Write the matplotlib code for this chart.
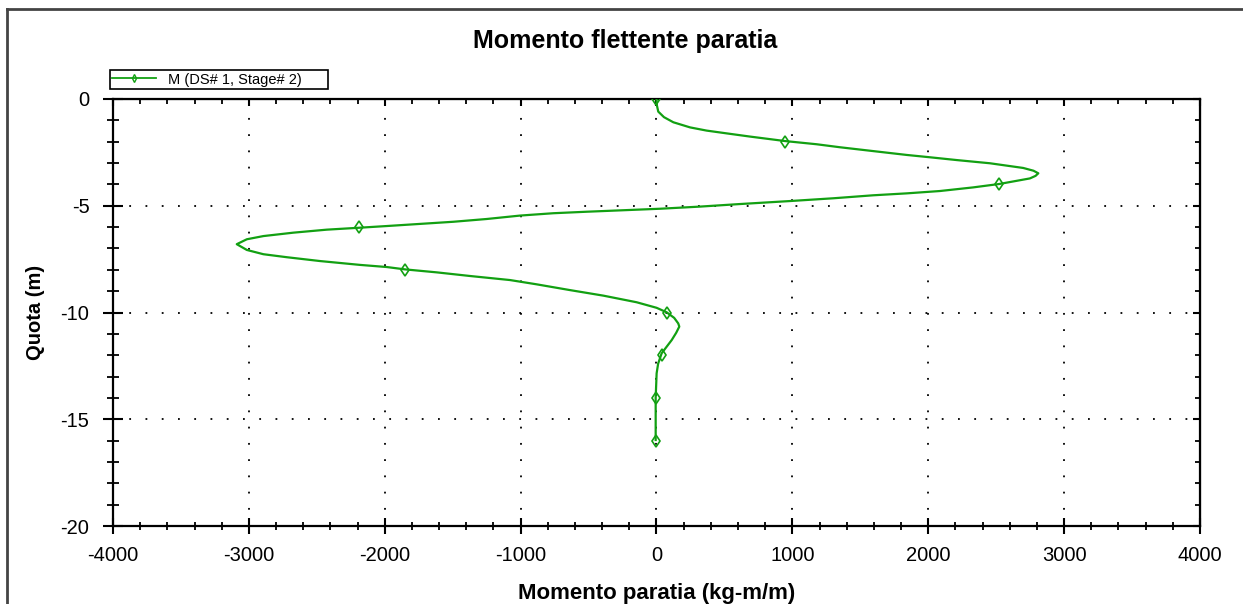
import matplotlib.pyplot as plt
from matplotlib.lines import Line2D
from matplotlib.ticker import MultipleLocator

plt.rcParams['font.family'] = ['Liberation Sans', 'DejaVu Sans']
plt.rcParams['axes.unicode_minus'] = False

# momento flettente lungo la paratia (quota in m, momento in kg-m/m)
quota = [0.0, -0.3, -0.59, -0.85, -1.09, -1.33, -1.48, -1.61, -1.76, -1.97, -2.12, -2.26, -2.44,
         -2.62, -2.73, -2.86, -3.01, -3.23, -3.36, -3.48, -3.60, -3.72, -3.98, -4.14, -4.31, -4.42,
         -4.51, -4.65, -4.78, -4.92, -5.04, -5.14, -5.28, -5.35, -5.46, -5.62, -5.75,
         -5.85, -5.95, -6.03, -6.12, -6.26, -6.42, -6.57, -6.80, -7.07, -7.27, -7.41,
         -7.59, -7.77, -7.87, -7.98, -8.12, -8.29, -8.48, -8.68, -8.95, -9.21, -9.52,
         -9.78, -9.99, -10.25, -10.51, -10.66, -10.95, -11.29, -11.91, -12.4, -12.85, -13.99, -15.97]
momento = [0, 3, 13, 55, 124, 247, 369, 516, 688, 946, 1179, 1350, 1595,
           1841, 2013, 2209, 2454, 2699, 2775, 2810, 2790, 2748, 2523, 2331, 2086, 1841,
           1595, 1301, 982, 614, 320, 26, -514, -759, -1004, -1249, -1495,
           -1740, -1985, -2189, -2427, -2672, -2893, -3015, -3089, -3015, -2893, -2721,
           -2476, -2182, -1985, -1851, -1617, -1372, -1078, -882, -637, -391, -146,
           1, 75, 130, 160, 168, 145, 112, 38, 12, 1, -6, -6]

# punti di calcolo marcati ogni 2 m
quota_mark = [0, -2, -4, -6, -8, -10, -12, -14, -16]
momento_mark = [0, 946, 2523, -2189, -1851, 75, 38, -6, -6]

verde = '#12a012'

fig = plt.figure(figsize=(12.43, 6.04), dpi=100)
ax = fig.add_axes([0.0909, 0.1291, 0.8745, 0.7070])

ax.plot(momento, quota, color=verde, lw=1.6, zorder=3)
ax.plot(momento_mark, quota_mark, ls='none', marker='d', ms=6, mfc='none',
        mec=verde, mew=1.2, zorder=4)

ax.set_xlim(-4000, 4000)
ax.set_ylim(-20, 0)
ax.xaxis.set_major_locator(MultipleLocator(1000))
ax.xaxis.set_minor_locator(MultipleLocator(200))
ax.yaxis.set_major_locator(MultipleLocator(5))
ax.yaxis.set_minor_locator(MultipleLocator(1))

ax.grid(True, which='major', color='black', ls=(0, (1, 8)), lw=1.3)

for s in ax.spines.values():
    s.set_linewidth(1.6)

ax.tick_params(axis='x', which='major', direction='inout', length=11, width=1.5,
               labelsize=14.5, pad=9)
ax.tick_params(axis='x', which='minor', direction='inout', length=6, width=1.3)
ax.tick_params(axis='y', which='major', direction='inout', length=14, width=1.5,
               labelsize=14.5, pad=10)
ax.tick_params(axis='y', which='minor', direction='inout', length=8, width=1.3)

# tacche interne sui lati superiore e destro
top = ax.secondary_xaxis('top')
top.xaxis.set_major_locator(MultipleLocator(1000))
top.xaxis.set_minor_locator(MultipleLocator(200))
top.tick_params(which='major', direction='in', length=5, width=1.5, labeltop=False)
top.tick_params(which='minor', direction='in', length=3.5, width=1.3)
right = ax.secondary_yaxis('right')
right.yaxis.set_major_locator(MultipleLocator(5))
right.yaxis.set_minor_locator(MultipleLocator(1))
right.tick_params(which='major', direction='in', length=5, width=1.5, labelright=False)
right.tick_params(which='minor', direction='in', length=3.5, width=1.3)

ax.set_xlabel('Momento paratia (kg-m/m)', fontsize=16, fontweight='bold', labelpad=13)
ax.set_ylabel('Quota (m)', fontsize=14.5, fontweight='bold', labelpad=11)
fig.text(0.503, 0.932, 'Momento flettente paratia', ha='center', va='center',
         fontsize=18, fontweight='bold')

handle = Line2D([], [], color=verde, lw=1.3, marker='d', ms=4, mfc='none', mec=verde)
leg = fig.legend([handle], ['M (DS# 1, Stage# 2)      '], loc='lower left',
                 bbox_to_anchor=(0.0885, 0.853), fontsize=10.5, frameon=True,
                 fancybox=False, edgecolor='black', framealpha=1,
                 handlelength=3.0, borderpad=0.15, handletextpad=0.8,
                 borderaxespad=0)
leg.get_frame().set_linewidth(1.2)

# cornice del grafico
fig.add_artist(Line2D([0.0055, 0.0055], [0, 0.985], color='#444444', lw=2,
                      transform=fig.transFigure))
fig.add_artist(Line2D([0.0055, 1], [0.985, 0.985], color='#444444', lw=2,
                      transform=fig.transFigure))

fig.savefig('out.png', dpi=100, facecolor='white')
